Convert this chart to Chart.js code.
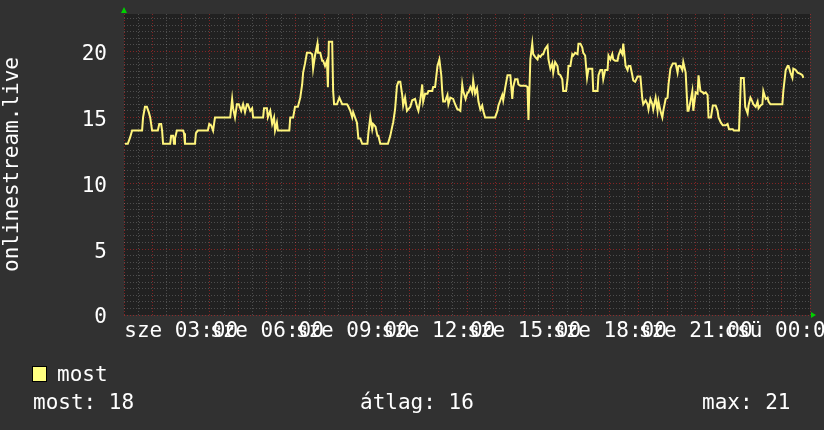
<!DOCTYPE html>
<html>
<head>
<meta charset="utf-8">
<script src="https://cdn.jsdelivr.net/npm/chart.js@4/dist/chart.umd.min.js"></script>
<style>
  body { margin: 0; background: #313131; }
  #wrap { position: relative; width: 824px; height: 430px; background: #313131; overflow: hidden; }
  #c { position: absolute; left: 0; top: 0; }
  .t { position: absolute; color: #fff; font: 21px/21px "DejaVu Sans Mono", monospace; white-space: pre; }
  #box { position: absolute; left: 32px; top: 366px; width: 13px; height: 14px; background: #ffff80; border: 1px solid #000; }
</style>
</head>
<body>
<div id="wrap">
  <canvas id="c" width="824" height="430"></canvas>
  <div id="box"></div>
  <div class="t" id="lg" style="left:57px; top:364px;"></div>
  <div class="t" id="s1" style="left:33px; top:392px;"></div>
  <div class="t" id="s2" style="left:360px; top:392px;"></div>
  <div class="t" id="s3" style="left:702px; top:392px;"></div>
</div>
<script>
// minutes since wednesday 00:00
const mins = [62,68,73,77,98,100,104,108,112,115,119,131,134,138,140,142,157,159,163,165,167,171,184,186,188,209,211,215,236,239,243,247,251,283,287,289,293,297,301,306,310,314,318,320,325,329,331,352,354,360,362,367,371,375,377,381,383,407,409,
  415,419,425,430,434,436,440,444,451,455,457,461,466,467,472,476,478,482,486,488,490,497,499,501,507,512,518,528,530,535,539,541,549,552,556,560,571,573,577,581,583,588,592,594,598,614,619,623,625,629,633,636,640,644,646,650,654,661,665,671,676,678,682,686,688,692,697,699,707,709,713,718,722,726,728,730,734,739,741,745,751,755,760,762,766,
  770,772,777,781,783,787,791,793,797,801,804,808,812,814,818,839,844,846,850,854,856,860,865,871,875,877,881,886,888,892,903,907,909,913,917,919,923,928,930,934,938,940,944,949,951,955,959,961,965,970,972,976,980,982,988,991,993,997,1001,1003,1007,1012,1014,1018,1022,1024,1028,1032,1035,1043,1045,1054,1056,1060,1064,1066,1070,1075,1077,1081,1085,1087,1091,1096,1098,1102,1106,1108,1113,1117,1119,1123,1127,1129,
  1133,1138,1144,1148,1150,1155,1159,1161,1165,1169,1171,1176,1180,1182,1186,1190,1192,1197,1201,1203,1207,1212,1218,1222,1224,1228,1232,1234,1239,1243,1245,1249,1253,1255,1260,1264,1266,1270,1275,1277,1281,1285,1287,1292,1296,1302,1306,1308,1313,1317,1323,1327,1330,1338,1340,1351,1355,1361,1364,1369,1371,1375,1379,1381,1386,1390,1392,1396,1400,1402,1407,1411,1413,1417,1442,1444,1449,1453,1455,1459,1463,1465,1470,1474,1480,1484,1486];
const users = [13,13,13.5,14,14,15,15.8,15.8,15.4,15,14,14,14.5,14.5,14,13,13,13.6,13.6,13,13.4,14,14,13.8,13,13,13.8,14,14,14.5,14.4,14,15,15,16.4,15.7,15,16,16,15.5,16,15.4,16,16,15.5,15.7,15,15,15.7,15.7,15,15.5,14.5,15,14,14.6,14,14,15,
  15,15.8,15.8,16.5,17.5,18.4,19.1,19.9,19.9,19.8,18.7,19.7,20.6,19.9,19.9,19.3,19.3,18.9,19.3,17.3,20.75,20.75,17,16,16,16.5,16,16,15.9,15.5,15,15.4,14.6,13.4,13.4,13,13,13.8,15,14.1,14.5,14.3,13.6,13.6,13,13,13.6,14.3,14.6,15.6,17.4,17.7,17.7,16.7,15.9,16.5,15.5,15.8,16.3,16.4,15.7,15.5,16.3,17.5,16.2,16.8,16.8,17,17,17.3,17.3,18.9,19.4,18.2,17,16.2,16.2,16.7,16,16.5,16.4,16,15.6,15.6,15.5,
  17.5,17,16.4,16.9,16.9,17.3,16.9,17.8,16.8,17.2,16.2,15.6,15.9,15.5,15,15,15.5,15.9,16.3,16.7,16.3,17.2,18.2,18.2,16.4,17.3,17.9,17.9,17.5,17.4,17.4,17.3,14.8,19.4,20.6,19.8,19.6,19.4,19.7,19.6,19.8,19.8,20.2,20.45,19.4,18.7,19.1,18.4,19.2,18.9,18.3,18.2,17.9,17,17,17.9,18.9,18.9,19.8,19.7,19.9,19.8,20.6,20.6,20.3,19.9,19.7,18,18.7,18.7,17,17,18.2,18.6,18.6,17.9,18.6,18.6,19.7,19.4,19.8,19.4,19.3,19.3,19.7,20.1,19.8,20.6,18.9,18.6,18.9,18.9,18.2,17.8,
  17.7,18.1,18.1,16.4,16,16.3,16,15.6,16.4,16,15.6,16.5,15.5,16.2,15.5,15,15.5,16.4,16.5,17.5,18.7,19.1,19.1,18.4,18.9,18.9,18.6,19.2,18.4,15.5,15.5,16.2,17,15.5,16.9,16.8,18.2,17,16.9,16.8,16.9,16.7,15,15,15.9,15.9,15.5,15,14.6,14.4,14.4,14.5,14.1,14.1,14,14,18,18,15.8,15.3,15.9,16.5,16.2,16,15.8,16.2,15.7,15.9,16,17,16.4,16.5,16.2,16,16,17,18.6,18.9,18.9,18.4,18,18.7,18.6,18.4,18.3,18.2,18];

const xLabels = {180:'sze 03:00', 360:'sze 06:00', 540:'sze 09:00', 720:'sze 12:00', 900:'sze 15:00', 1080:'sze 18:00', 1260:'sze 21:00', 1440:'csü 00:00'};
const yLabels = [0, 5, 10, 15, 20];
const axisTitle = 'onlinestream.live';
const seriesName = 'most';
const stats = ['most: 18', 'átlag: 16', 'max: 21'];

document.getElementById('lg').textContent = seriesName;
document.getElementById('s1').textContent = stats[0];
document.getElementById('s2').textContent = stats[1];
document.getElementById('s3').textContent = stats[2];

const FONT = { family: 'DejaVu Sans Mono', size: 21 };
const MGRID = 'rgba(255,40,40,0.45)';
const GRID = 'rgba(255,255,255,0.2)';

const bgPlugin = {
  id: 'bg',
  beforeDraw(chart) {
    const a = chart.chartArea, ctx = chart.ctx;
    ctx.save();
    ctx.fillStyle = '#313131';
    ctx.fillRect(0, 0, chart.width, chart.height);
    ctx.fillStyle = '#212121';
    ctx.fillRect(a.left, a.top, a.right - a.left, a.bottom - a.top);
    ctx.restore();
  },
  afterDraw(chart) {
    const a = chart.chartArea, ctx = chart.ctx;
    ctx.save();
    ctx.fillStyle = '#00d000';
    ctx.beginPath();
    ctx.moveTo(a.left - 3, a.top - 1);
    ctx.lineTo(a.left + 3, a.top - 1);
    ctx.lineTo(a.left, a.top - 7);
    ctx.fill();
    ctx.beginPath();
    ctx.moveTo(a.right + 1, a.bottom - 3);
    ctx.lineTo(a.right + 1, a.bottom + 3);
    ctx.lineTo(a.right + 6, a.bottom);
    ctx.fill();
    ctx.restore();
  }
};

new Chart(document.getElementById('c'), {
  type: 'line',
  data: {
    datasets: [{
      label: seriesName,
      data: mins.map((m, i) => ({ x: m, y: users[i] })),
      borderColor: '#fff57c',
      borderWidth: 2,
      pointRadius: 0,
      tension: 0,
      fill: false
    }]
  },
  options: {
    responsive: false,
    animation: false,
    devicePixelRatio: 1,
    layout: { padding: { top: 14, right: 14, left: 0, bottom: 0 } },
    plugins: { legend: { display: false }, tooltip: { enabled: false } },
    scales: {
      x: {
        type: 'linear',
        min: 60,
        max: 1500,
        afterFit(s) { s.height = 115; s.paddingLeft = 0; s.paddingRight = 0; },
        border: { display: false, dash: [1, 2] },
        grid: {
          drawTicks: false,
          color: c => (c.tick && c.tick.value % 60 === 0) ? MGRID : GRID
        },
        ticks: {
          stepSize: 30,
          includeBounds: false,
          autoSkip: false,
          maxRotation: 0,
          minRotation: 0,
          padding: 4,
          color: '#fff',
          font: FONT,
          callback: v => xLabels[v] || ''
        }
      },
      y: {
        min: 0,
        max: 22.85,
        afterFit(s) { s.width = 124; s.paddingTop = 0; s.paddingBottom = 0; },
        border: { display: false, dash: [1, 2] },
        grid: {
          drawTicks: false,
          color: c => (c.tick && c.tick.value % 5 === 0) ? MGRID : GRID
        },
        title: { display: true, text: axisTitle, color: '#fff', font: FONT, padding: 0 },
        ticks: {
          stepSize: 0.5,
          includeBounds: false,
          autoSkip: false,
          padding: 17,
          labelOffset: 3,
          color: '#fff',
          font: FONT,
          callback: v => yLabels.includes(v) ? String(v) : ''
        }
      }
    }
  },
  plugins: [bgPlugin]
});
</script>
</body>
</html>
